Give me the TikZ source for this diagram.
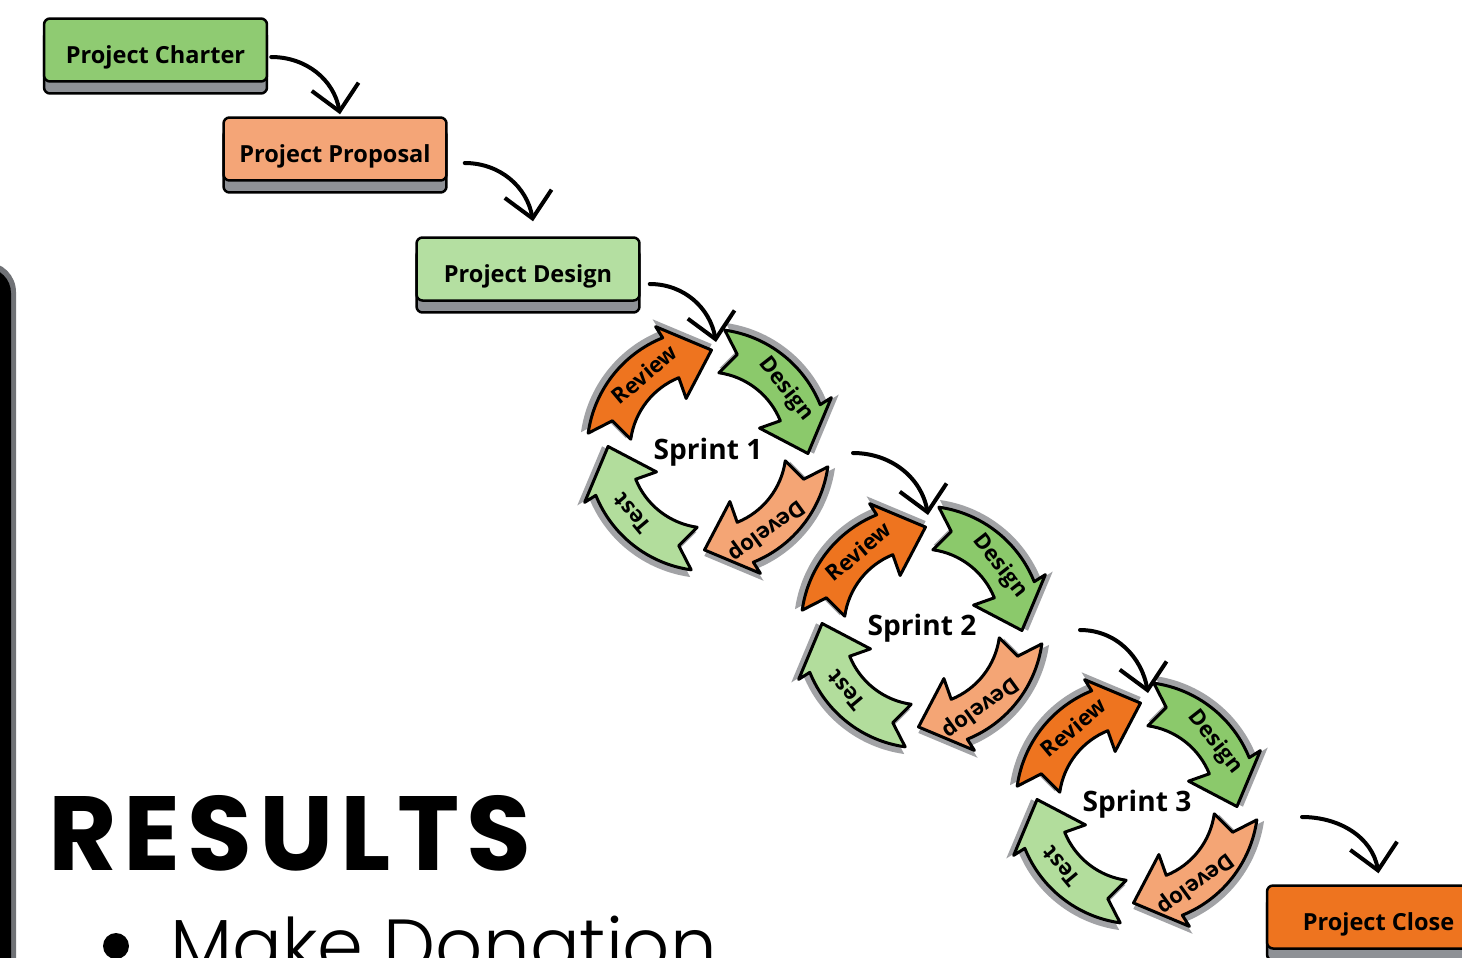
\documentclass[tikz,border=0pt]{standalone}
\usepackage{fontspec}
\setmainfont{Open Sans}
\newfontfamily\headfont[LetterSpace=6.5]{Poppins}
\newfontfamily\lightfont{Poppins Light}
\usetikzlibrary{arrows.meta,shadows}

\definecolor{chartergreen}{HTML}{8FCB72}
\definecolor{proposalorange}{HTML}{F4A577}
\definecolor{designgreen}{HTML}{B4DFA1}
\definecolor{closeorange}{HTML}{EE741F}
\definecolor{basegray}{HTML}{8E9196}
\definecolor{framegray}{HTML}{707276}
\definecolor{reviewc}{HTML}{EE741F}
\definecolor{designc}{HTML}{8BC96B}
\definecolor{developc}{HTML}{F4A575}
\definecolor{testc}{HTML}{B2DD9C}
\definecolor{cycleshadow}{HTML}{A2A3A6}

\tikzset{
  stepbox/.style={draw=black, line width=0.05cm, rounded corners=0.12cm,
    minimum width=4.46cm, minimum height=1.26cm,
    text height=0.55cm, text depth=0cm,
    font=\bfseries\fontsize{13.4}{16}\selectfont,
    drop shadow={shadow xshift=0cm, shadow yshift=-0.24cm, fill=basegray,
      draw=black, line width=0.05cm, opacity=1}},
  flow/.style={line width=0.08cm, line cap=round,
    -{Straight Barb[length=0.5cm,width=0.95cm,line width=0.08cm]}},
  cycleline/.style={draw=black, line width=0.06cm, line join=round},
  cyclelabel/.style={font=\bfseries\fontsize{12.5}{14}\selectfont, inner sep=0},
  sprintlabel/.style={font=\bfseries\fontsize{16}{18}\selectfont, inner sep=1pt}
}

% one curved arrow of a sprint cycle, tail at angle #1
\newcommand{\arrowpath}[1]{(#1:121) arc[start angle=#1, end angle=#1-60, radius=121]
  -- (#1-59:134) -- (#1-84:100) -- (#1-59:56) -- (#1-60:78)
  arc[start angle=#1-60, end angle=#1, radius=78] -- (#1-9:100) -- cycle}
\newcommand{\cyclearrow}[4]{%
  \fill[cycleshadow, scale=1.06] \arrowpath{#1};
  \draw[cycleline, fill=#2] \arrowpath{#1};
  \node[cyclelabel, rotate=#4-90] at (#4:99) {#3};
}

\begin{document}
\begin{tikzpicture}[x=0.02cm,y=0.02cm]
  \clip (0,0) rectangle (1462,-957);
  \fill[white] (0,0) rectangle (1462,-957);

  % edge of the frame
  \fill[framegray, rounded corners=0.6cm] (-40,-262) rectangle (16,-1000);
  \fill[black, rounded corners=0.5cm] (-40,-268) rectangle (11,-1000);

  % heading
  \node[anchor=base west, inner sep=0, font=\headfont\bfseries\fontsize{60}{60}\selectfont] (results) at (48,-870) {RESULTS};
  \node[circle, fill=black, minimum size=0.52cm, inner sep=0] (bullet) at (116,-946) {};
  \node[anchor=base west, inner sep=0, font=\lightfont\fontsize{42}{42}\selectfont] (donate) at (170,-971) {Make Donation};

  % phases
  \node[stepbox, fill=chartergreen] (charter) at (155.5,-50) {Project Charter};
  \node[stepbox, fill=proposalorange] (proposal) at (335,-149) {Project Proposal};
  \node[stepbox, fill=designgreen] (design) at (528,-269) {Project Design};
  \node[stepbox, fill=closeorange] (close) at (1378.5,-917) {Project Close};

  % sprints
  \begin{scope}[shift={(708,-450)}]
    \cyclearrow{172}{reviewc}{Review}{130}
    \cyclearrow{82}{designc}{Design}{38}
    \cyclearrow{-8}{developc}{Develop}{-54}
    \cyclearrow{-98}{testc}{Test}{-140}
    \node[sprintlabel] (sprint1) at (0,-2) {Sprint 1};
    \coordinate (s1in) at (8,108);
    \coordinate (s1out) at (145,-3);
  \end{scope}
  \begin{scope}[shift={(922,-627)}]
    \cyclearrow{172}{reviewc}{Review}{130}
    \cyclearrow{82}{designc}{Design}{38}
    \cyclearrow{-8}{developc}{Develop}{-54}
    \cyclearrow{-98}{testc}{Test}{-140}
    \node[sprintlabel] (sprint2) at (0,-1) {Sprint 2};
    \coordinate (s2in) at (6,112);
    \coordinate (s2out) at (158,-3);
  \end{scope}
  \begin{scope}[shift={(1137,-803)}]
    \cyclearrow{172}{reviewc}{Review}{130}
    \cyclearrow{82}{designc}{Design}{38}
    \cyclearrow{-8}{developc}{Develop}{-54}
    \cyclearrow{-98}{testc}{Test}{-140}
    \node[sprintlabel] (sprint3) at (0,-1) {Sprint 3};
    \coordinate (s3in) at (11,110);
    \coordinate (s3out) at (165,-14);
  \end{scope}

  % flow between steps
  \draw[flow] ([shift={(3,-7)}]charter.east) to[out=0, in=100] ([shift={(5,2)}]proposal.north);
  \draw[flow] ([shift={(17,-14)}]proposal.east) to[out=0, in=100] ([shift={(5,15)}]design.north);
  \draw[flow] ([shift={(9,-15)}]design.east) to[out=0, in=100] (s1in);
  \draw[flow] (s1out) to[out=0, in=100] (s2in);
  \draw[flow] (s2out) to[out=0, in=100] (s3in);
  \draw[flow] (s3out) to[out=0, in=100] ([shift={(0,11)}]close.north);
\end{tikzpicture}
\end{document}
